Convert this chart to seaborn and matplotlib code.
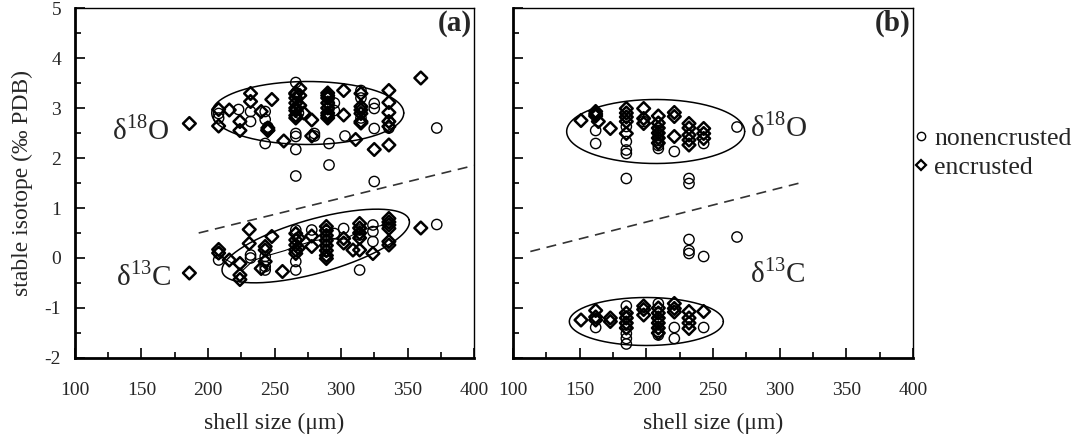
import numpy as np
import pandas as pd
import matplotlib
matplotlib.use("Agg")
import matplotlib.pyplot as plt
import seaborn as sns
from matplotlib.lines import Line2D

# ---------------- data ----------------
# Panel (a)
a_o18_non_x = [208, 208, 223, 232, 232, 243, 243, 243, 245, 266, 266, 266, 266, 266, 266, 266, 268, 280, 280,
               291, 291, 291, 291, 291, 295, 295, 303, 315, 315, 315, 315, 325, 325, 325, 325, 336, 336, 372]
a_o18_non_y = [2.89, 2.80, 2.97, 2.93, 2.73, 2.93, 2.77, 2.29, 2.62, 3.51, 3.30, 3.00, 2.49, 2.43, 2.17, 1.64, 2.90, 2.49, 2.44,
               3.09, 2.99, 2.29, 1.86, 3.20, 3.10, 2.95, 2.44, 3.35, 3.20, 3.00, 2.80, 3.09, 2.99, 2.59, 1.53, 2.73, 2.60, 2.60]
a_o18_enc_x = [186, 208, 208, 216, 224, 224, 232, 232, 240, 245, 245, 245, 248, 257,
               266, 266, 266, 266, 266, 266, 266, 266, 269, 269, 269, 272, 278, 278,
               290, 290, 290, 290, 290, 290, 290, 290, 302, 302, 311,
               315, 315, 315, 315, 315, 315, 325, 336, 336, 336, 336, 336, 336, 360]
a_o18_enc_y = [2.69, 2.97, 2.64, 2.96, 2.73, 2.55, 3.29, 3.13, 2.93, 2.56, 2.60, 2.55, 3.17, 2.34,
               3.28, 3.30, 3.20, 3.10, 3.00, 2.95, 2.85, 2.80, 3.39, 3.25, 3.05, 2.90, 2.76, 2.44,
               3.30, 3.25, 3.20, 3.10, 3.00, 2.90, 2.85, 2.80, 3.35, 2.86, 2.37,
               3.29, 3.03, 2.96, 2.89, 2.73, 2.70, 2.17, 3.35, 3.11, 2.91, 2.73, 2.63, 2.26, 3.60]

a_c13_non_x = [208, 208, 232, 232, 243, 243, 243, 266, 266, 266, 278, 289, 289, 289, 289, 289, 295,
               302, 314, 314, 314, 324, 324, 324, 372]
a_c13_non_y = [0.09, -0.04, 0.06, 0.00, 0.03, -0.17, -0.24, 0.56, -0.07, -0.24, 0.56, 0.53, 0.43, 0.33, 0.23, 0.13, 0.49,
               0.59, 0.56, 0.46, -0.24, 0.66, 0.53, 0.33, 0.67]
a_c13_enc_x = [186, 208, 208, 216, 224, 224, 224, 231, 231, 240, 243, 243, 243, 248, 256,
               266, 266, 266, 266, 266, 268, 268, 278, 278,
               289, 289, 289, 289, 289, 289, 289, 289, 302, 302, 309,
               314, 314, 314, 314, 314, 324, 336, 336, 336, 336, 336, 336, 360]
a_c13_enc_y = [-0.30, 0.17, 0.10, -0.04, -0.11, -0.34, -0.43, 0.57, 0.29, -0.21, 0.23, 0.16, -0.07, 0.43, -0.27,
               0.49, 0.36, 0.26, 0.16, 0.09, 0.40, 0.20, 0.44, 0.23,
               0.63, 0.55, 0.45, 0.35, 0.25, 0.15, 0.05, -0.01, 0.39, 0.30, 0.16,
               0.69, 0.60, 0.50, 0.40, 0.16, 0.09, 0.79, 0.72, 0.66, 0.59, 0.33, 0.26, 0.60]

a_c13_mean_x = [208, 218, 226, 234, 245, 258, 268, 280, 291, 303, 315, 325, 336]
a_c13_mean_y = [0.05, -0.10, -0.25, -0.05, 0.05, 0.15, 0.25, 0.35, 0.38, 0.38, 0.55, 0.62, 0.68]

# Panel (b)
b_o18_non_x = [162, 162, 185, 185, 185, 185, 185, 198, 209, 209, 209, 209, 209, 209, 221, 232, 232, 243, 268]
b_o18_non_y = [2.55, 2.29, 2.63, 2.33, 2.16, 2.09, 1.59, 2.73, 2.70, 2.55, 2.45, 2.35, 2.25, 2.19, 2.13, 1.59, 1.49, 2.29, 2.62]
b_o18_enc_x = [151, 162, 162, 162, 164, 173, 185, 185, 185, 185, 185, 198, 198, 198,
               209, 209, 209, 209, 209, 209, 221, 221, 221, 232, 232, 232, 232, 232, 243, 243, 243]
b_o18_enc_y = [2.75, 2.93, 2.88, 2.84, 2.73, 2.59, 2.99, 2.90, 2.82, 2.73, 2.49, 2.99, 2.79, 2.69,
               2.84, 2.70, 2.60, 2.50, 2.40, 2.30, 2.91, 2.83, 2.43, 2.69, 2.60, 2.46, 2.36, 2.26, 2.59, 2.49, 2.39]

b_c13_non_x = [162, 185, 185, 185, 185, 185, 185, 209, 209, 209, 209, 209, 209, 221, 221, 232, 232, 232, 243, 243, 268]
b_c13_non_y = [-1.39, -0.96, -1.17, -1.34, -1.51, -1.61, -1.72, -0.91, -1.10, -1.25, -1.40, -1.54, -1.47, -1.39, -1.61,
               0.37, 0.15, 0.09, 0.03, -1.39, 0.42]
b_c13_enc_x = [151, 162, 162, 162, 173, 173, 185, 185, 185, 185, 198, 198, 198,
               209, 209, 209, 209, 209, 209, 221, 221, 221, 232, 232, 232, 232, 243]
b_c13_enc_y = [-1.24, -1.05, -1.18, -1.24, -1.27, -1.20, -1.10, -1.20, -1.30, -1.40, -0.96, -1.03, -1.14,
               -1.00, -1.10, -1.20, -1.30, -1.40, -1.50, -0.91, -1.01, -1.08, -1.07, -1.20, -1.30, -1.41, -1.07]

# dashed separating lines (endpoints)
a_dash_x = [193, 400]
a_dash_y = [0.50, 1.85]
b_dash_x = [113, 315]
b_dash_y = [0.13, 1.50]

# ellipses: centre x, centre y, semi-major (px), semi-minor (px), angle (deg)
a_ellipses = [(275, 2.90, 96, 31.5, 0.0), (281, 0.24, 97, 27, 15.6)]
b_ellipses = [(207, 2.53, 89, 32, 0.0), (200, -1.27, 77, 24, 0.0)]

x_ticks = [100, 150, 200, 250, 300, 350, 400]
y_ticks = [-2, -1, 0, 1, 2, 3, 4, 5]

# ---------------- style ----------------
sns.set_theme(style="white")
plt.rcParams['font.family'] = ['Liberation Serif', 'DejaVu Serif']
plt.rcParams['mathtext.fontset'] = 'custom'
plt.rcParams['mathtext.rm'] = 'Liberation Serif'
plt.rcParams['axes.unicode_minus'] = False

W, H = 1084, 441
fig = plt.figure(figsize=(W / 100, H / 100), dpi=100)
axA = fig.add_axes([75 / W, (H - 358) / H, 399 / W, 350 / H])
axB = fig.add_axes([513 / W, (H - 358) / H, 400 / W, 350 / H])


def make_df(nx, ny, ex, ey):
    d1 = pd.DataFrame({'x': nx, 'y': ny, 'type': 'nonencrusted'})
    d2 = pd.DataFrame({'x': ex, 'y': ey, 'type': 'encrusted'})
    return d1, d2


def draw_points(ax, d_non, d_enc):
    sns.scatterplot(data=d_non, x='x', y='y', ax=ax, marker='o', s=55, color='black',
                    linewidth=1.0, legend=False, zorder=3)
    ax.collections[-1].set_facecolor('none')
    ax.collections[-1].set_edgecolor('black')
    sns.scatterplot(data=d_enc, x='x', y='y', ax=ax, marker='D', s=42, color='black',
                    linewidth=1.8, legend=False, zorder=3)
    ax.collections[-1].set_facecolor('none')
    ax.collections[-1].set_edgecolor('black')


def draw_ellipse(ax, cx, cy, a, b, ang):
    t = np.linspace(0, 2 * np.pi, 300)
    th = np.deg2rad(ang)
    c = ax.transData.transform((cx, cy))
    px = c[0] + a * np.cos(t) * np.cos(th) - b * np.sin(t) * np.sin(th)
    py = c[1] + a * np.cos(t) * np.sin(th) + b * np.sin(t) * np.cos(th)
    pts = ax.transData.inverted().transform(np.column_stack([px, py]))
    ax.plot(pts[:, 0], pts[:, 1], color='black', lw=1.1, zorder=4)


for ax in (axA, axB):
    ax.set_xlim(100, 400)
    ax.set_ylim(-2, 5)
    ax.set_xticks(x_ticks)
    ax.set_xticks(np.arange(100, 401, 25), minor=True)
    ax.set_yticks(y_ticks)
    ax.set_yticks(np.arange(-2, 5.01, 0.5), minor=True)
    ax.tick_params(which='both', direction='in', top=False, right=False, left=True, bottom=True,
                   color='black', width=1.2)
    ax.tick_params(which='major', length=7, labelsize=14, pad=17)
    ax.tick_params(which='minor', length=4)
    ax.tick_params(axis='y', which='major', pad=10)
    for sp in ax.spines.values():
        sp.set_color('black')
        sp.set_linewidth(1.0)
    ax.spines['left'].set_linewidth(2.0)
    ax.spines['bottom'].set_linewidth(2.0)

axB.tick_params(axis='y', labelleft=False)

# panel a
dn, de = make_df(a_o18_non_x, a_o18_non_y, a_o18_enc_x, a_o18_enc_y)
draw_points(axA, dn, de)
dn, de = make_df(a_c13_non_x, a_c13_non_y, a_c13_enc_x, a_c13_enc_y)
draw_points(axA, dn, de)
sns.lineplot(x=a_c13_mean_x, y=a_c13_mean_y, ax=axA, color='black', lw=0.8, zorder=2)
sns.lineplot(x=a_dash_x, y=a_dash_y, ax=axA, color='#333333', lw=1.2, linestyle=(0, (6, 4)), zorder=2)
for e in a_ellipses:
    draw_ellipse(axA, *e)

# panel b
dn, de = make_df(b_o18_non_x, b_o18_non_y, b_o18_enc_x, b_o18_enc_y)
draw_points(axB, dn, de)
dn, de = make_df(b_c13_non_x, b_c13_non_y, b_c13_enc_x, b_c13_enc_y)
draw_points(axB, dn, de)
sns.lineplot(x=b_dash_x, y=b_dash_y, ax=axB, color='#333333', lw=1.2, linestyle=(0, (6, 4)), zorder=2)
for e in b_ellipses:
    draw_ellipse(axB, *e)

for ax in (axA, axB):
    ax.set_xlabel('shell size (μm)', fontsize=17, labelpad=10)
    ax.set_ylabel('')
axA.set_ylabel('stable isotope (‰ PDB)', fontsize=17, labelpad=8)

# labels
lab_kw = dict(fontsize=21, va='center', ha='left')
axA.text(128, 2.56, r'δ$^{18}$O', **lab_kw)
axA.text(131, -0.36, r'δ$^{13}$C', **lab_kw)
axB.text(278, 2.62, r'δ$^{18}$O', **lab_kw)
axB.text(278, -0.30, r'δ$^{13}$C', **lab_kw)
axA.text(0.995, 0.995, '(a)', transform=axA.transAxes, ha='right', va='top', fontsize=21, fontweight='bold')
axB.text(0.995, 0.995, '(b)', transform=axB.transAxes, ha='right', va='top', fontsize=21, fontweight='bold')

# legend
handles = [Line2D([], [], marker='o', ls='none', mfc='none', mec='black', ms=6, mew=1.0),
           Line2D([], [], marker='D', ls='none', mfc='none', mec='black', ms=5, mew=1.6)]
fig.legend(handles, ['nonencrusted', 'encrusted'], loc='upper left', bbox_to_anchor=(911 / W, 1 - 127 / H),
           frameon=False, fontsize=18.5, handlelength=0.8, handletextpad=0.1, labelspacing=0.25,
           borderaxespad=0, borderpad=0)

fig.savefig('out.png', dpi=100)
